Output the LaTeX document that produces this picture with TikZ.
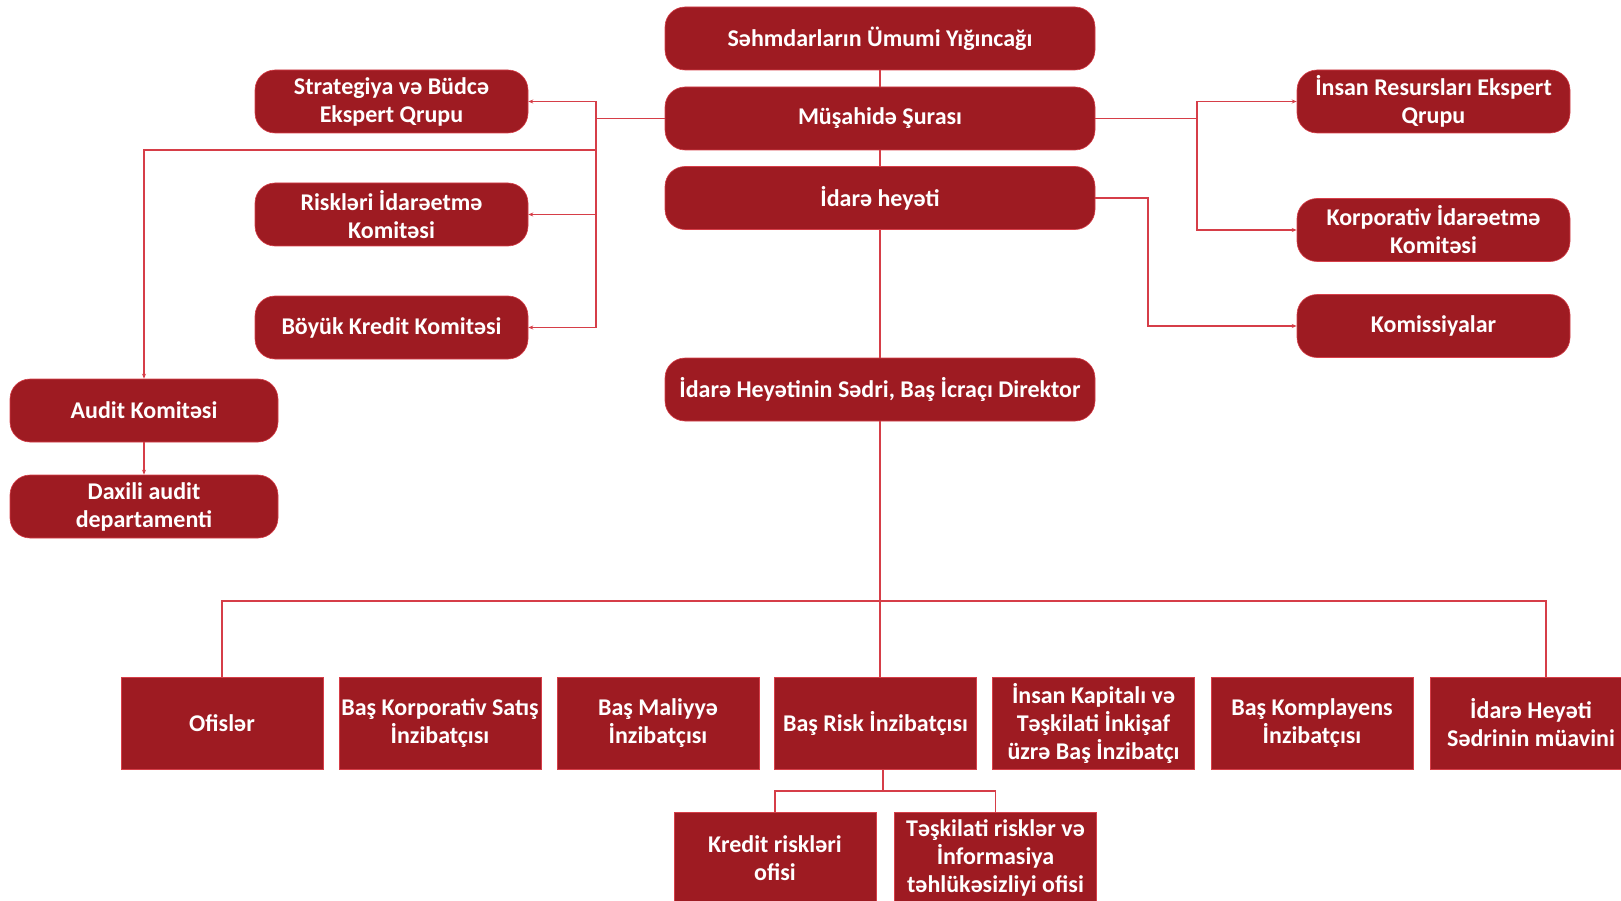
\documentclass[tikz,border=0pt]{standalone}
\usepackage{fontspec}
\setmainfont{Carlito}
\usetikzlibrary{arrows.meta}

\definecolor{boxred}{RGB}{158,27,34}
\definecolor{linered}{RGB}{214,62,72}

\tikzset{
	pill/.style={draw=linered, line width=0.6pt, fill=boxred, rounded corners=20pt,
		minimum height=63pt, inner sep=0pt, align=center, text=white,
		font=\fontsize{24}{28}\selectfont\bfseries},
	unit/.style={draw=linered, line width=0.6pt, fill=boxred,
		minimum width=202pt, minimum height=92pt, inner sep=0pt, align=center, text=white,
		font=\fontsize{24}{28}\selectfont\bfseries},
	link/.style={draw=linered, line width=1.1pt},
	arrowlink/.style={link, -{Stealth[length=5pt,width=4pt]}}
}

\begin{document}
\begin{tikzpicture}[x=1pt, y=-1pt]
	\useasboundingbox (0,0) rectangle (1621,901);

	% board column
	\node[pill, minimum width=430pt] (gms) at (880, 38.5) {Səhmdarların Ümumi Yığıncağı};
	\node[pill, minimum width=430pt] (ms) at (880, 118.5) {Müşahidə Şurası};
	\node[pill, minimum width=430pt] (ih) at (880, 198) {İdarə heyəti};
	\node[pill, minimum width=430pt] (sedr) at (880, 389.5) {İdarə Heyətinin Sədri, Baş İcraçı Direktor};

	% committees, left
	\node[pill, minimum width=273pt] (strat) at (391.5, 101.5) {Strategiya və Büdcə\\Ekspert Qrupu};
	\node[pill, minimum width=273pt] (riskc) at (391.5, 214.5) {Riskləri İdarəetmə\\Komitəsi};
	\node[pill, minimum width=273pt] (bkk) at (391.5, 327.5) {Böyük Kredit Komitəsi};
	\node[pill, minimum width=268pt] (audit) at (144, 410.5) {Audit Komitəsi};
	\node[pill, minimum width=268pt] (daxili) at (144, 506.5) {Daxili audit\\departamenti};

	% committees, right
	\node[pill, minimum width=273pt] (insan) at (1433.5, 101.5) {İnsan Resursları Ekspert\\Qrupu};
	\node[pill, minimum width=273pt] (korp) at (1433.5, 230) {Korporativ İdarəetmə\\Komitəsi};
	\node[pill, minimum width=273pt] (komis) at (1433.5, 326) {Komissiyalar};

	% executives, bottom row
	\node[unit] (ofis) at (222, 723) {Ofislər};
	\node[unit] (satis) at (440, 723) {Baş Korporativ Satış\\İnzibatçısı};
	\node[unit] (maliyye) at (658, 723) {Baş Maliyyə\\İnzibatçısı};
	\node[unit] (brisk) at (875.5, 723) {Baş Risk İnzibatçısı};
	\node[unit] (kapital) at (1093.5, 723) {İnsan Kapitalı və\\Təşkilati İnkişaf\\üzrə Baş İnzibatçı};
	\node[unit] (kompl) at (1312, 723) {Baş Komplayens\\İnzibatçısı};
	\node[unit] (muavin) at (1531, 723) {İdarə Heyəti\\Sədrinin müavini};

	% risk offices
	\node[unit] (kredit) at (775, 858) {Kredit riskləri\\ofisi};
	\node[unit] (teskilati) at (995.5, 858) {Təşkilati risklər və\\İnformasiya\\təhlükəsizliyi ofisi};

	% junctions
	\coordinate (ljoin) at (596, 118.5);
	\coordinate (ajoin) at (596, 150);
	\coordinate (rjoin) at (1197, 118.5);
	\coordinate (kjoin) at (1148, 198);
	\coordinate (bus) at (880, 601);
	\coordinate (busend) at (1546, 601);
	\coordinate (rsplit) at (883, 791);

	% center line
	\draw[link] (gms.south) -- (ms.north);
	\draw[link] (ms.south) -- (ih.north);
	\draw[link] (ih.south) -- (sedr.north);
	\draw[link] (sedr.south) -- (sedr.south |- brisk.north);

	% left branches
	\draw[link] (ms.west) -- (ljoin);
	\draw[arrowlink] (ljoin) |- (strat.east);
	\draw[arrowlink] (ljoin) |- (riskc.east);
	\draw[arrowlink] (ljoin) |- (bkk.east);
	\draw[arrowlink] (ajoin) -| (audit.north);
	\draw[arrowlink] (audit.south) -- (daxili.north);

	% right branches
	\draw[link] (ms.east) -- (rjoin);
	\draw[arrowlink] (rjoin) |- (insan.west);
	\draw[arrowlink] (rjoin) |- (korp.west);
	\draw[arrowlink] (ih.east) -| (kjoin) |- (komis.west);

	% bus to bottom row
	\draw[link] (ofis.north) |- (bus) -- (busend) -- (busend |- muavin.north);

	% risk offices
	\draw[link] (rsplit |- brisk.south) -- (rsplit);
	\draw[link] (kredit.north) |- (rsplit) -| (teskilati.north);
\end{tikzpicture}
\end{document}
